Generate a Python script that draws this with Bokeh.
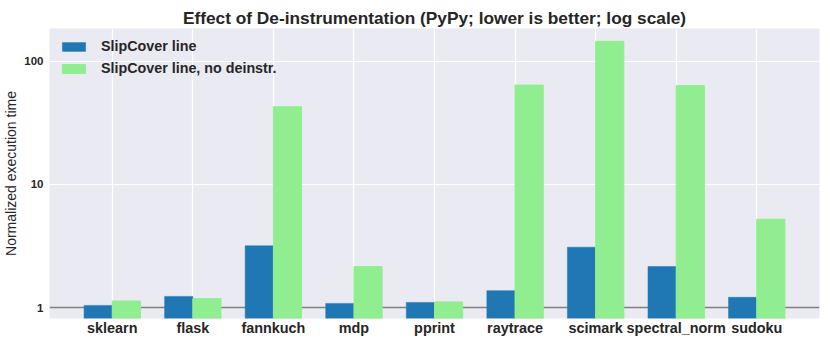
from bokeh.plotting import figure
from bokeh.models import FactorRange, Range1d, FixedTicker, Span, Legend, LegendItem, ColumnDataSource
from bokeh.transform import dodge
from bokeh.embed import file_html
from bokeh.resources import INLINE

benchmarks = ["sklearn", "flask", "fannkuch", "mdp", "pprint", "raytrace", "scimark", "spectral_norm", "sudoku"]
slipcover_line = [1.04, 1.23, 3.17, 1.08, 1.10, 1.37, 3.09, 2.15, 1.21]
slipcover_no_deinstr = [1.13, 1.18, 42.8, 2.15, 1.11, 64.2, 145.5, 63.5, 5.22]
y_ticks = [1, 10, 100]
y_tick_labels = ["1", "10", "100"]

src = ColumnDataSource(dict(cat=benchmarks, a=slipcover_line, b=slipcover_no_deinstr,
                            base=[0.5] * len(benchmarks)))

FONT = "Liberation Sans"
TXT = "#262626"

p = figure(frame_width=770, frame_height=290, output_backend="svg", toolbar_location=None,
           x_range=FactorRange(factors=benchmarks, range_padding=0.062),
           y_axis_type="log", y_range=Range1d(0.814, 185),
           title="Effect of De-instrumentation (PyPy; lower is better; log scale)",
           min_border_left=42, min_border_right=2, min_border_top=28, min_border_bottom=18)

p.background_fill_color = "#EAEAF2"
p.border_fill_color = "white"
p.outline_line_color = None

p.title.align = "center"
p.title.text_font = FONT
p.title.text_font_size = "17.3px"
p.title.text_font_style = "bold"
p.title.text_color = TXT
p.title.offset = 0
p.title.standoff = 1

p.xgrid.grid_line_color = "white"
p.xgrid.grid_line_width = 1.2
p.ygrid.grid_line_color = "white"
p.ygrid.grid_line_width = 1.2
p.ygrid.minor_grid_line_color = None

p.yaxis.ticker = FixedTicker(ticks=y_ticks, minor_ticks=[])
p.yaxis.major_label_overrides = {t: l for t, l in zip(y_ticks, y_tick_labels)}
p.yaxis.axis_label = "Normalized execution time"
p.yaxis.axis_label_text_font = FONT
p.yaxis.axis_label_text_font_size = "14px"
p.yaxis.axis_label_text_font_style = "normal"
p.yaxis.axis_label_text_color = TXT
p.yaxis.axis_label_standoff = 2
p.yaxis.major_label_text_font = FONT
p.yaxis.major_label_text_font_size = "11.5px"
p.yaxis.major_label_text_font_style = "bold"
p.yaxis.major_label_text_color = TXT
p.yaxis.major_label_standoff = 6

p.xaxis.major_label_text_font = FONT
p.xaxis.major_label_text_font_size = "14.4px"
p.xaxis.major_label_text_font_style = "bold"
p.xaxis.major_label_text_color = TXT
p.xaxis.major_label_standoff = 1

for ax in (p.xaxis[0], p.yaxis[0]):
    ax.axis_line_color = None
    ax.major_tick_line_color = None
    ax.minor_tick_line_color = None
    ax.major_tick_out = 0
    ax.major_tick_in = 0
    ax.minor_tick_out = 0
    ax.minor_tick_in = 0

ref = Span(location=1, dimension="width", line_color="#808080", line_width=1.5, level="underlay")
p.add_layout(ref)

r1 = p.vbar(x=dodge("cat", -0.175, range=p.x_range), top="a", bottom="base", width=0.35,
            source=src, fill_color="#1f77b4", line_color="#1f77b4", line_alpha=0.5)
r2 = p.vbar(x=dodge("cat", 0.175, range=p.x_range), top="b", bottom="base", width=0.35,
            source=src, fill_color="#90EE90", line_color="#90EE90")

legend = Legend(items=[LegendItem(label="SlipCover line", renderers=[r1]),
                       LegendItem(label="SlipCover line, no deinstr.", renderers=[r2])],
                location="top_left", background_fill_alpha=0, border_line_color=None,
                glyph_width=29, glyph_height=11, label_height=16, spacing=6,
                label_standoff=13, margin=10, padding=3,
                label_text_font=FONT, label_text_font_size="14.3px",
                label_text_font_style="bold", label_text_color=TXT)
p.add_layout(legend)

open("out.html", "w").write(file_html(p, INLINE))
